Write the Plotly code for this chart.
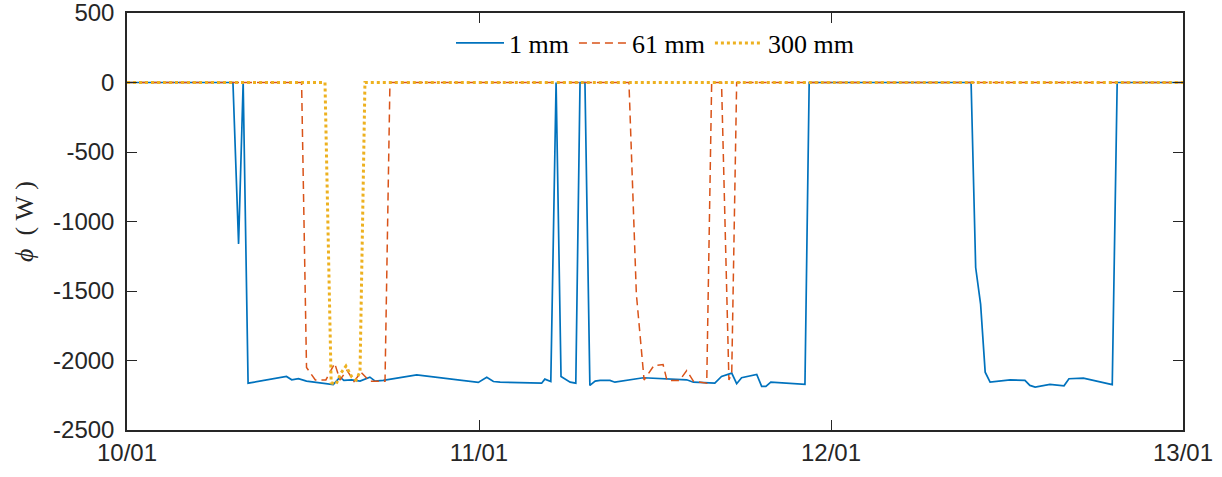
import pandas as pd
import plotly.graph_objects as go

# time in days after 10/01 00:00, power in W
t_1mm = [0.000, 0.301, 0.317, 0.330, 0.344, 0.453, 0.468, 0.487, 0.510, 0.586, 0.605, 0.616,
         0.638, 0.662, 0.690, 0.705, 0.728, 0.823, 0.998, 1.022, 1.041, 1.060, 1.178, 1.187,
         1.204, 1.219, 1.233, 1.259, 1.275, 1.287, 1.301, 1.315, 1.330, 1.344, 1.372, 1.386,
         1.467, 1.543, 1.590, 1.609, 1.670, 1.689, 1.718, 1.732, 1.746, 1.789, 1.803, 1.815,
         1.829, 1.926, 1.938, 2.398, 2.411, 2.425, 2.438, 2.452, 2.509, 2.551, 2.565, 2.580,
         2.622, 2.662, 2.676, 2.717, 2.755, 2.799, 2.813, 3.000]
phi_1mm = [0, 0, -1161, 0, -2163, -2115, -2139, -2131, -2148, -2174, -2120, -2143,
           -2139, -2148, -2120, -2148, -2143, -2103, -2158, -2120, -2151, -2156, -2163, -2134,
           -2151, 0, -2115, -2156, -2163, 0, 0, -2179, -2148, -2143, -2143, -2156,
           -2124, -2136, -2139, -2156, -2163, -2115, -2091, -2167, -2124, -2100, -2186, -2186,
           -2156, -2172, 0, 0, -1331, -1594, -2084, -2156, -2139, -2143, -2179, -2191,
           -2172, -2182, -2131, -2127, -2148, -2174, 0, 0]

t_61mm = [0.000, 0.496, 0.510, 0.535, 0.565, 0.590, 0.605, 0.625, 0.645, 0.665, 0.690, 0.733,
          0.747, 1.426, 1.447, 1.469, 1.497, 1.523, 1.534, 1.570, 1.590, 1.609, 1.647, 1.661,
          1.689, 1.710, 1.718, 1.732, 3.000]
phi_61mm = [0, 0, -2050, -2140, -2140, -2020, -2140, -2070, -2150, -2085, -2150, -2150,
            0, 0, -1520, -2140, -2036, -2029, -2143, -2143, -2072, -2148, -2163, 0,
            0, -2140, -2090, 0, 0]

t_300mm = [0.000, 0.5625, 0.580, 0.594, 0.608, 0.622, 0.639, 0.651, 0.662, 0.676, 3.000]
phi_300mm = [0, 0, -2160, -2170, -2090, -2040, -2120, -2140, -2080, 0, 0]

start = pd.Timestamp("2021-01-10")
def to_time(days):
    return start + pd.to_timedelta(days, unit="D")

tick_days = [0, 1, 2, 3]
y_ticks = [500, 0, -500, -1000, -1500, -2000, -2500]
y_ticklabels = ["500", "0", "-500", "-1000", "-1500", "-2000", "-2500"]

fig = go.Figure()
fig.add_trace(go.Scatter(x=to_time(t_1mm), y=phi_1mm, mode="lines", name="1 mm",
                         line=dict(color="#0072BD", width=1.7)))
fig.add_trace(go.Scatter(x=to_time(t_61mm), y=phi_61mm, mode="lines", name="61 mm",
                         line=dict(color="#D95319", width=1.5, dash="8px,5px")))
fig.add_trace(go.Scatter(x=to_time(t_300mm), y=phi_300mm, mode="lines", name="300 mm",
                         line=dict(color="#EDB120", width=3, dash="3px,3px")))

axis_common = dict(showline=True, linecolor="#262626", linewidth=1.5, mirror="ticks",
                   ticks="inside", ticklen=10, tickcolor="#262626", tickwidth=1,
                   showgrid=False, zeroline=False, automargin=False,
                   ticklabeloverflow="allow",
                   tickfont=dict(family="Liberation Sans, Arial", size=24, color="#262626"))

fig.update_layout(
    width=1222, height=477,
    margin=dict(l=127, r=39, t=13, b=47),
    paper_bgcolor="white", plot_bgcolor="white",
    xaxis=dict(range=[to_time(0), to_time(3)], tickvals=to_time(tick_days),
               tickformat="%d/%m", **axis_common),
    yaxis=dict(range=[-2500, 500], tickvals=y_ticks, ticktext=y_ticklabels,
               ticklabelstandoff=6, **axis_common),
    legend=dict(orientation="h", x=0.5, xanchor="center", y=0.928, yanchor="middle",
                bgcolor="rgba(255,255,255,0)", borderwidth=0,
                font=dict(family="Liberation Serif, DejaVu Serif", size=26, color="#000000"),
                itemwidth=48, tracegroupgap=0),
    showlegend=True,
    hovermode=False,
    annotations=[dict(text="<i>ϕ</i>  ( W )", textangle=-90, showarrow=False,
                      xref="paper", yref="paper", x=-0.097, y=0.5,
                      xanchor="center", yanchor="middle",
                      font=dict(family="Liberation Serif, DejaVu Serif", size=26, color="#262626"))],
)

fig.write_html("out.html", config={"displayModeBar": False},
               post_script="document.body.style.margin='0';document.body.style.overflow='hidden';")
